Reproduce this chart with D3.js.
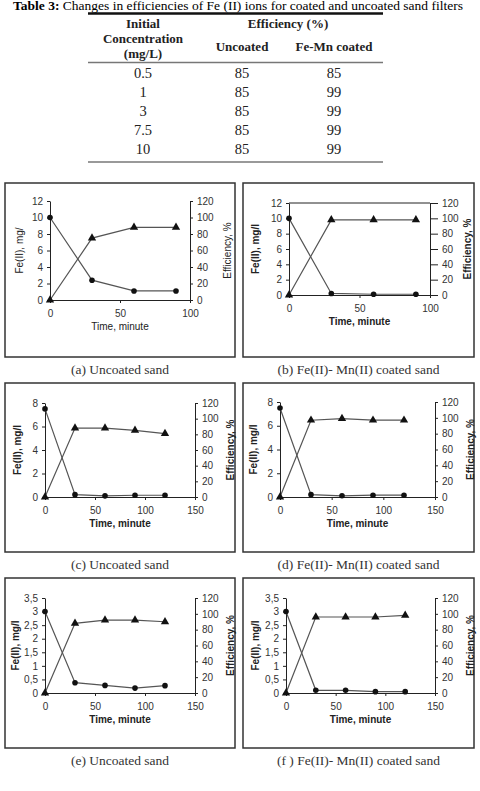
<!DOCTYPE html>
<html><head><meta charset="utf-8">
<script src="https://cdn.jsdelivr.net/npm/d3@7"></script>
<style>body{margin:0;background:#fff}svg{display:block}</style>
</head><body>
<svg id="c" width="480" height="791"></svg>
<script>
// ---- Table data ----
const tableConc = ["0.5", "1", "3", "7.5", "10"];
const tableUncoated = [85, 85, 85, 85, 85];
const tableCoated = [85, 99, 99, 99, 99];

// ---- Panel data ----
const timeA = [0, 30, 60, 90];
const feA = [10, 2.4, 1.1, 1.1];
const effA = [0, 75, 88, 88];

const timeB = [0, 30, 60, 90];
const feB = [10, 0.2, 0.1, 0.1];
const effB = [0, 98, 98, 98];

const timeC = [0, 30, 60, 90, 120];
const feC = [7.5, 0.2, 0.1, 0.15, 0.15];
const effC = [0, 88, 88, 85, 81];

const timeD = [0, 30, 60, 90, 120];
const feD = [7.5, 0.2, 0.1, 0.15, 0.15];
const effD = [0, 97, 99, 97, 97];

const timeE = [0, 30, 60, 90, 120];
const feE = [3, 0.38, 0.28, 0.18, 0.27];
const effE = [0, 88, 92, 92, 90];

const timeF = [0, 30, 60, 90, 120];
const feF = [3, 0.1, 0.1, 0.05, 0.05];
const effF = [0, 96, 96, 96, 98];

const captions = ["(a) Uncoated sand", "(b) Fe(II)- Mn(II) coated sand", "(c) Uncoated sand",
  "(d) Fe(II)- Mn(II) coated sand", "(e) Uncoated sand", "(f ) Fe(II)- Mn(II) coated sand"];
const xTicksShort = [0, 50, 100];
const xTicksLong = [0, 50, 100, 150];
const effTicks = [0, 20, 40, 60, 80, 100, 120];

const svg = d3.select("#c");
const serif = "'Liberation Serif','Times New Roman',serif";
const sans = "'Liberation Sans',Arial,sans-serif";

// ---- Table ----
const title = svg.append("text").attr("x", 13).attr("y", 10)
  .attr("font-family", serif).attr("font-size", 12.5)
  .attr("textLength", 450).attr("lengthAdjust", "spacingAndGlyphs");
title.append("tspan").attr("font-weight", "bold").text("Table 3:");
title.append("tspan").text(" Changes in efficiencies of Fe (II) ions for coated and uncoated sand filters");

const tx0 = 88, tx1 = 383;
svg.append("line").attr("x1", tx0).attr("x2", tx1).attr("y1", 13.5).attr("y2", 13.5).attr("stroke", "#111").attr("stroke-width", 2.5);
svg.append("line").attr("x1", tx0).attr("x2", tx1).attr("y1", 62.5).attr("y2", 62.5).attr("stroke", "#777").attr("stroke-width", 1.5);
svg.append("line").attr("x1", tx0).attr("x2", tx1).attr("y1", 162).attr("y2", 162).attr("stroke", "#777").attr("stroke-width", 1.5);

const colX = [143, 242, 334];
const hdr = (x, y, t) => svg.append("text").attr("x", x).attr("y", y).attr("text-anchor", "middle")
  .attr("font-family", serif).attr("font-weight", "bold").attr("font-size", 13).attr("fill", "#222").text(t);
hdr(colX[0], 28, "Initial");
hdr(colX[0], 43, "Concentration");
hdr(colX[0], 58, "(mg/L)");
hdr((colX[1] + colX[2]) / 2, 28, "Efficiency (%)");
hdr(colX[1], 51, "Uncoated");
hdr(colX[2], 51, "Fe-Mn coated");

const rowY = d3.scaleLinear().domain([0, 4]).range([78, 154]);
tableConc.forEach((c, i) => {
  [c, tableUncoated[i], tableCoated[i]].forEach((v, j) => {
    svg.append("text").attr("x", colX[j]).attr("y", rowY(i)).attr("text-anchor", "middle")
      .attr("font-family", serif).attr("font-size", 14.5).attr("fill", "#222").text(v);
  });
});

// ---- Panels ----
const panels = [
  {box: [5, 183, 235, 357], plot: [50, 190, 201, 300], t: timeA, fe: feA, eff: effA, xMax: 100, xt: xTicksShort, yMax: 12, yt: d3.range(0, 13, 2), bold: false, top: false, ylab: "Fe(II), mg/", lx: 19, rx: 227},
  {box: [243, 183, 474, 357], plot: [289, 430, 203, 295], t: timeB, fe: feB, eff: effB, xMax: 100, xt: xTicksShort, yMax: 12, yt: d3.range(0, 13, 2), bold: true, top: true, ylab: "Fe(II), mg/l", lx: 255, rx: 467},
  {box: [5, 383, 235, 552], plot: [45, 195, 403, 497], t: timeC, fe: feC, eff: effC, xMax: 150, xt: xTicksLong, yMax: 8, yt: d3.range(0, 9, 2), bold: true, top: false, ylab: "Fe(II), mg/l", lx: 17, rx: 230},
  {box: [243, 383, 474, 552], plot: [280, 435, 402, 497], t: timeD, fe: feD, eff: effD, xMax: 150, xt: xTicksLong, yMax: 8, yt: d3.range(0, 9, 2), bold: true, top: false, ylab: "Fe(II), mg/l", lx: 253, rx: 470},
  {box: [5, 578, 235, 748], plot: [45, 195, 598, 693], t: timeE, fe: feE, eff: effE, xMax: 150, xt: xTicksLong, yMax: 3.5, yt: d3.range(0, 3.51, 0.5), bold: true, top: false, ylab: "Fe(II), mg/l", lx: 15, rx: 230, comma: true},
  {box: [243, 578, 474, 748], plot: [286, 435, 598, 693], t: timeF, fe: feF, eff: effF, xMax: 150, xt: xTicksLong, yMax: 3.5, yt: d3.range(0, 3.51, 0.5), bold: true, top: false, ylab: "Fe(II), mg/l", lx: 255, rx: 470, comma: true}
];

const fmtComma = v => String(+v.toFixed(1)).replace(".", ",");

panels.forEach((p, i) => {
  const [bx0, by0, bx1, by1] = p.box;
  svg.append("rect").attr("x", bx0).attr("y", by0).attr("width", bx1 - bx0).attr("height", by1 - by0)
    .attr("fill", "none").attr("stroke", "#333").attr("stroke-width", 1.5);
  svg.append("text").attr("x", (bx0 + bx1) / 2).attr("y", by1 + 17).attr("text-anchor", "middle")
    .attr("font-family", serif).attr("font-size", 13.5).attr("fill", "#333").text(captions[i]);

  const [l, r, t, b] = p.plot;
  const x = d3.scaleLinear().domain([0, p.xMax]).range([l, r]);
  const y = d3.scaleLinear().domain([0, p.yMax]).range([b, t]);
  const y2 = d3.scaleLinear().domain([0, 120]).range([b, t]);
  const g = svg.append("g").attr("font-family", sans).attr("fill", "#333");

  const styleAxis = sel => {
    sel.selectAll("path,line").attr("stroke", "#222");
    sel.selectAll("text").attr("font-size", 10).attr("fill", "#333").attr("font-family", sans);
  };
  g.append("g").attr("transform", `translate(0,${b})`)
    .call(d3.axisBottom(x).tickValues(p.xt).tickSize(3).tickSizeOuter(0).tickPadding(7))
    .call(styleAxis);
  g.append("g").attr("transform", `translate(${l},0)`)
    .call(d3.axisLeft(y).tickValues(p.yt).tickSize(3).tickSizeOuter(0).tickPadding(4)
      .tickFormat(p.comma ? fmtComma : d3.format("d")))
    .call(styleAxis);
  g.append("g").attr("transform", `translate(${r},0)`)
    .call(d3.axisRight(y2).tickValues(effTicks).tickSize(p.top ? 8 : 3).tickSizeOuter(0).tickPadding(4))
    .call(styleAxis);
  if (p.top) {
    g.append("line").attr("x1", l).attr("x2", r).attr("y1", t).attr("y2", t).attr("stroke", "#222");
  }

  const fw = p.bold ? "bold" : "normal";
  g.append("text").attr("x", (l + r) / 2).attr("y", b + 30).attr("text-anchor", "middle")
    .attr("font-size", 10).attr("font-weight", fw).attr("fill", "#222").text("Time, minute");
  g.append("text").attr("transform", `translate(${p.lx},${(t + b) / 2}) rotate(-90)`)
    .attr("text-anchor", "middle").attr("dy", "0.35em")
    .attr("font-size", 10).attr("font-weight", fw).attr("fill", "#222").text(p.ylab);
  g.append("text").attr("transform", `translate(${p.rx},${(t + b) / 2}) rotate(-90)`)
    .attr("text-anchor", "middle").attr("dy", "0.35em")
    .attr("font-size", 10).attr("font-weight", fw).attr("fill", "#222").text("Efficiency, %");

  const feLine = d3.line().x((d, k) => x(p.t[k])).y(d => y(d));
  const effLine = d3.line().x((d, k) => x(p.t[k])).y(d => y2(d));
  g.append("path").attr("d", feLine(p.fe)).attr("fill", "none").attr("stroke", "#555").attr("stroke-width", 1.2);
  g.append("path").attr("d", effLine(p.eff)).attr("fill", "none").attr("stroke", "#555").attr("stroke-width", 1.2);

  g.selectAll(null).data(p.fe).join("circle")
    .attr("cx", (d, k) => x(p.t[k])).attr("cy", d => y(d)).attr("r", 2.8).attr("fill", "#111");
  const tri = d3.symbol().type(d3.symbolTriangle).size(30);
  g.selectAll(null).data(p.eff).join("path")
    .attr("d", tri).attr("transform", (d, k) => `translate(${x(p.t[k])},${y2(d)})`).attr("fill", "#111");
});
</script>
</body></html>
